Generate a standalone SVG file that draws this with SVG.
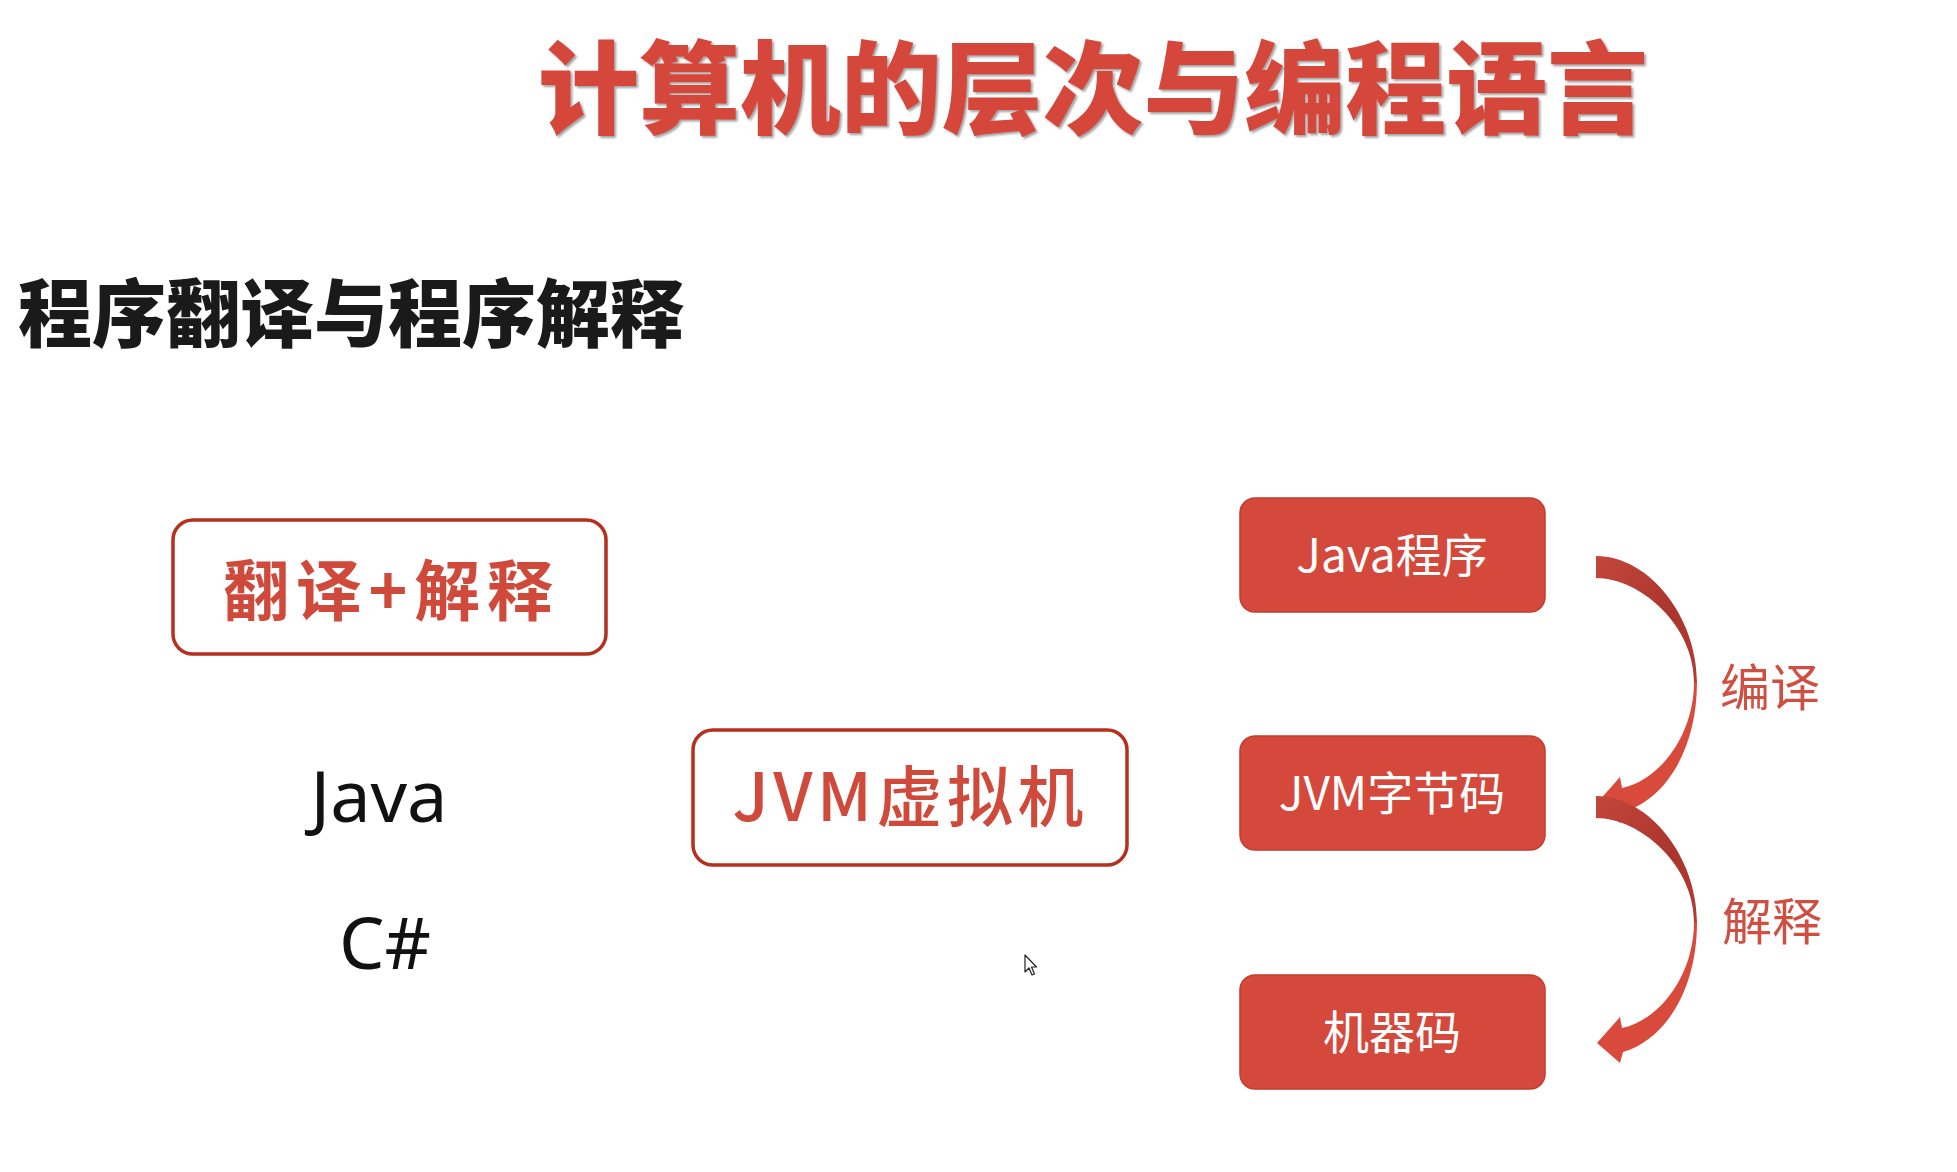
<svg xmlns="http://www.w3.org/2000/svg" width="1957" height="1172" viewBox="0 0 1957 1172">
  <defs>
    <style>
      .cjk { font-family: "Noto Sans CJK SC", "Noto Sans", sans-serif; }
      .title { font-size: 101px; font-weight: 900; fill: #d5473a; }
      .sub { font-size: 74px; font-weight: 900; fill: #1a1a1a; }
      .obox { fill: #ffffff; stroke: #b5301f; stroke-width: 3.5; }
      .otext { font-size: 66px; font-weight: 700; fill: #d04a3c; }
      .lang { font-family: "Noto Sans", "Open Sans", sans-serif; font-size: 72px; fill: #111111; }
      .rbox { fill: #d4493b; stroke: #c23d30; stroke-width: 1.5; }
      .rtext { font-size: 46px; font-weight: 400; fill: #ffffff; }
      .lbl { font-size: 50px; font-weight: 400; fill: #cf4f42; }
      .upper { fill: url(#gDark); }
      .lower { fill: #d84a3c; }
    </style>
    <filter id="shadow" x="-5%" y="-10%" width="110%" height="130%">
      <feDropShadow dx="2" dy="2" stdDeviation="1" flood-color="#555555" flood-opacity="0.55"/>
    </filter>
    <linearGradient id="gDark" x1="0" y1="0" x2="1" y2="1">
      <stop offset="0" stop-color="#c4463a"/>
      <stop offset="0.6" stop-color="#a9362d"/>
      <stop offset="1" stop-color="#b43b31"/>
    </linearGradient>
    <g id="curveArrow">
      <path class="upper" d="M1596,796 C1650,796 1697,858 1697,922 L1694,922 C1694,865 1640,818 1596,818 Z"/>
      <path class="lower" d="M1697,922 C1697,990 1665,1040 1623,1052 L1620,1063 L1597,1043 L1620,1017 L1622,1028 C1660,1020 1694,975 1694,922 Z"/>
    </g>
  </defs>

  <rect x="0" y="0" width="1957" height="1172" fill="#ffffff"/>

  <g id="title">
    <text class="cjk title" x="538" y="126" textLength="1110" lengthAdjust="spacingAndGlyphs" filter="url(#shadow)">计算机的层次与编程语言</text>
  </g>

  <g id="subtitle">
    <text class="cjk sub" x="18" y="341">程序翻译与程序解释</text>
  </g>

  <g id="node-translate-interpret">
    <rect class="obox" x="173" y="520" width="433" height="134" rx="20" ry="20"/>
    <text class="cjk otext" x="388" y="615" text-anchor="middle" textLength="330" lengthAdjust="spacing">翻译+解释</text>
  </g>

  <g id="node-java-lang">
    <text class="lang" x="379" y="822" text-anchor="middle">Java</text>
  </g>

  <g id="node-csharp-lang">
    <text class="lang" x="385" y="969" text-anchor="middle">C#</text>
  </g>

  <g id="node-jvm">
    <rect class="obox" x="693" y="730" width="434" height="135" rx="20" ry="20"/>
    <text class="cjk otext" x="908" y="821" text-anchor="middle" textLength="351" lengthAdjust="spacing" style="font-weight:500">JVM虚拟机</text>
  </g>

  <g id="node-java-program">
    <rect class="rbox" x="1240" y="498" width="305" height="114" rx="15" ry="15"/>
    <text class="cjk rtext" x="1392" y="572" text-anchor="middle">Java程序</text>
  </g>

  <g id="node-bytecode">
    <rect class="rbox" x="1240" y="736" width="305" height="114" rx="15" ry="15"/>
    <text class="cjk rtext" x="1392" y="810" text-anchor="middle">JVM字节码</text>
  </g>

  <g id="node-machine-code">
    <rect class="rbox" x="1240" y="975" width="305" height="114" rx="15" ry="15"/>
    <text class="cjk rtext" x="1392" y="1049" text-anchor="middle">机器码</text>
  </g>

  <g id="connectors">
    <use href="#curveArrow" transform="translate(0,-240)"/>
    <use href="#curveArrow"/>
    <text class="cjk lbl" x="1770" y="706" text-anchor="middle">编译</text>
    <text class="cjk lbl" x="1772" y="940" text-anchor="middle">解释</text>
  </g>

  <g id="cursor">
    <path d="M1025,955 L1025,972 L1029,968 L1032,975 L1034.5,974 L1031.5,967 L1036.5,967 Z" fill="#ffffff" stroke="#222222" stroke-width="1.2" stroke-linejoin="round"/>
  </g>
</svg>
